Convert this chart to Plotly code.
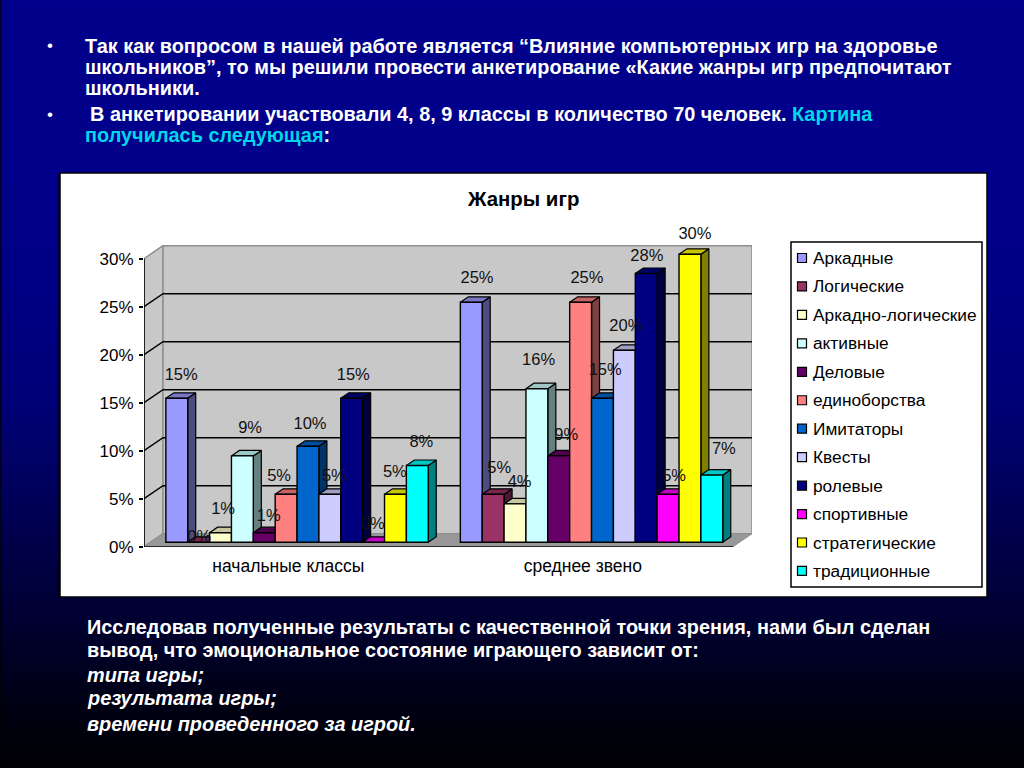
import plotly.graph_objects as go

# ---------- data ----------
categories = ["начальные классы", "среднее звено"]
series_names = ["Аркадные", "Логические", "Аркадно-логические", "активные", "Деловые",
                "единоборства", "Имитаторы", "Квесты", "ролевые", "спортивные",
                "стратегические", "традиционные"]
arkadnye = [15, 25]
logicheskie = [0, 5]
arkadno_logicheskie = [1, 4]
aktivnye = [9, 16]
delovye = [1, 9]
edinoborstva = [5, 25]
imitatory = [10, 15]
kvesty = [5, 20]
rolevye = [15, 28]
sportivnye = [0, 5]
strategicheskie = [5, 30]
tradicionnye = [8, 7]
series_values = [arkadnye, logicheskie, arkadno_logicheskie, aktivnye, delovye, edinoborstva,
                 imitatory, kvesty, rolevye, sportivnye, strategicheskie, tradicionnye]
y_ticks = [0, 5, 10, 15, 20, 25, 30]
title_text = "Жанры игр"

# ---------- style ----------
front_colors = ["#9999FF", "#993366", "#FFFFCC", "#CCFFFF", "#660066", "#FF8080",
                "#0066CC", "#CCCCFF", "#000080", "#FF00FF", "#FFFF00", "#00FFFF"]
FONT = "Liberation Sans, Arial, sans-serif"
W, H = 1024, 768
X0_PX, Y0_PX = 144.0, 546.7      # origin of the front axis plane
BAND_PX, PCT_PX = 294.5, 9.6     # pixels for one category band / one percent
WALL_DX, WALL_DY = 19.0, 13.0    # depth of the back wall
RIGHT_PX, TOP_PX = X0_PX + 2 * BAND_PX + WALL_DX, 222.0
BAR_SHIFT_X, BAR_SHIFT_Y = 5.8, 4.4   # front of bars relative to axis plane
BAR_DX, BAR_DY = 8.0, 5.5        # depth of bars
BARGAP = 0.109
LABEL_LIFT_FIX = -2.0            # px, common correction for data-label height
CAT_LABEL_SHIFT = -0.01          # band units, category labels sit slightly left of band centre

# per-label nudges (px, relative to the top centre of the bar): hand-moved labels in the source
label_dx = [[4.4, 5.7], [0.5, 6.0], [2.6, 4.6], [7.7, 1.7], [4.5, 7.5], [-7.0, 6.3],
            [2.0, 2.7], [4.0, 1.5], [1.5, 0.6], [-0.7, 6.0], [-0.6, 5.0], [4.0, 12.0]]
label_dy = [[24.3, 25.0], [6.0, 27.6], [24.7, 23.0], [29.0, 29.4], [17.7, 22.0], [19.0, 25.6],
            [23.0, 29.0], [19.0, 25.0], [24.0, 18.5], [19.0, 19.0], [23.0, 21.0], [25.0, 27.4]]


def ux(px):
    return px / BAND_PX


def uy(px):
    return px / PCT_PX


def shade(hex_color, k):
    r, g, b = (int(hex_color[i:i + 2], 16) for i in (1, 3, 5))
    return f"rgb({int(r * k)},{int(g * k)},{int(b * k)})"


x_min = -0.5
x_max = x_min + ux(RIGHT_PX - X0_PX)
y_max = uy(Y0_PX - TOP_PX)
x_end = 1.5
wx, wy = ux(WALL_DX), uy(WALL_DY)

fig = go.Figure()


def poly(xs, ys, fill, line_color="rgba(0,0,0,0)", lw=1.0):
    fig.add_trace(go.Scatter(x=xs, y=ys, mode="lines", fill="toself", fillcolor=fill,
                             line=dict(color=line_color, width=lw), hoverinfo="skip",
                             showlegend=False, xaxis="x", yaxis="y"))


# walls and floor
poly([x_min, x_min + wx, x_min + wx, x_min, x_min], [0, wy, 30 + wy, 30, 0], "#C8C8C8", "#8E8E8E", 1.5)
poly([x_min + wx, x_end + wx, x_end + wx, x_min + wx, x_min + wx], [wy, wy, 30 + wy, 30 + wy, wy],
     "#C8C8C8", "#8E8E8E", 1.5)
poly([x_min, x_end, x_end + wx, x_min + wx, x_min], [0, 0, wy, wy, 0], "#989898", "#8E8E8E", 1.0)

# grid lines (left wall + back wall)
gx, gy = [], []
for v in y_ticks[1:-1]:
    gx += [x_min, x_min + wx, x_end + wx, None]
    gy += [v, v + wy, v + wy, None]
fig.add_trace(go.Scatter(x=gx, y=gy, mode="lines", line=dict(color="#000000", width=1.4),
                         hoverinfo="skip", showlegend=False))

# bar geometry
bar_w = (1 - BARGAP) / len(series_values)
bx, by = ux(BAR_SHIFT_X), uy(BAR_SHIFT_Y)
dx, dy = ux(BAR_DX), uy(BAR_DY)


def bar_left(cat_idx, s_idx):
    return cat_idx + bx - (1 - BARGAP) / 2 + s_idx * bar_w


# side and top faces, left to right so nearer bars hide the farther ones
for c in range(len(categories)):
    for s, vals in enumerate(series_values):
        xl = bar_left(c, s)
        xr = xl + bar_w
        top = vals[c] + by
        poly([xr, xr + dx, xr + dx, xr, xr], [by, by + dy, top + dy, top, by],
             shade(front_colors[s], 0.5), "#000000", 1.2)
        poly([xl, xr, xr + dx, xl + dx, xl], [top, top, top + dy, top + dy, top],
             shade(front_colors[s], 0.78), "#000000", 1.2)

# axis lines and category ticks
fig.add_trace(go.Scatter(x=[x_min, x_min, None, x_min, x_end, None, x_min, x_min, None, 0.5, 0.5, None, x_end, x_end],
                         y=[0, 30, None, 0, 0, None, 0, -uy(4), None, 0, -uy(4), None, 0, -uy(4)],
                         mode="lines", line=dict(color="#000000", width=1.6), hoverinfo="skip",
                         showlegend=False, cliponaxis=False))

# front faces (true bars), on an overlaying subplot so they cover every side face
for s, name in enumerate(series_names):
    fig.add_trace(go.Bar(x=[c + bx for c in range(len(categories))], y=series_values[s], base=by, name=name,
                         marker=dict(color=front_colors[s], line=dict(color="#000000", width=1.4)),
                         xaxis="x2", yaxis="y2", showlegend=False))

# data labels
lx, ly, lt = [], [], []
for c in range(len(categories)):
    for s, vals in enumerate(series_values):
        lx.append(bar_left(c, s) + bar_w / 2 + ux(label_dx[s][c]))
        ly.append(vals[c] + by + uy(label_dy[s][c] + LABEL_LIFT_FIX))
        lt.append(f"{vals[c]}%")
fig.add_trace(go.Scatter(x=lx, y=ly, text=lt, mode="text", textposition="middle center",
                         textfont=dict(family=FONT, size=16.5, color="#111111"), cliponaxis=False,
                         xaxis="x2", yaxis="y2", showlegend=False, hoverinfo="skip"))

# ---------- page furniture ----------
shapes = []
BAND = 4
stops = [(0, 140), (150, 139), (274, 135), (397, 120), (490, 92), (552, 70), (600, 55), (684, 26), (768, 3)]


def grad(y):
    for (y0, c0), (y1, c1) in zip(stops, stops[1:]):
        if y <= y1:
            return int(c0 + (c1 - c0) * (y - y0) / (y1 - y0))
    return stops[-1][1]


def rect(x0, y0, x1, y1, fill, line=None, lw=0, layer="below"):
    return dict(type="rect", xref="paper", yref="paper", x0=x0 / W, x1=x1 / W, y0=1 - y0 / H, y1=1 - y1 / H,
                fillcolor=fill, line=dict(color=line or "rgba(0,0,0,0)", width=lw), layer=layer)


for y in range(0, H, BAND):
    shapes.append(rect(0, y, W, y + BAND + 1, "rgb(0,0,%d)" % grad(y)))
shapes.append(rect(0, 0, 1.5, H, "rgba(0,0,0,0.7)"))
shapes.append(rect(57.5, 173, 60, 597, "rgba(0,0,0,0.55)"))
shapes.append(rect(60, 173, 987, 597, "#FFFFFF", "#000000", 1.5))
shapes.append(rect(791, 242, 982, 587, "#FFFFFF", "#000000", 1.5))

LEG_Y0, LEG_STEP = 258.0, 28.45
annotations = []


def label(x, y, text, size, color="#FFFFFF", anchor="left", bold=False, italic=False):
    if bold:
        text = f"<b>{text}</b>"
    if italic:
        text = f"<i>{text}</i>"
    annotations.append(dict(xref="paper", yref="paper", x=x / W, y=1 - y / H, text=text, showarrow=False,
                            xanchor=anchor, yanchor="middle", align="left",
                            font=dict(family=FONT, size=size, color=color)))


for s, name in enumerate(series_names):
    yc = LEG_Y0 + s * LEG_STEP
    shapes.append(rect(797.5, yc - 4.5, 806.5, yc + 4.5, front_colors[s], "#000000", 1.2, layer="above"))
    label(811, yc, name, 17.3, "#000000")

label(523, 199, title_text, 20.4, "#000000", anchor="center", bold=True)

CYAN = "#00D8E8"
top_lines = [
    (46, "Так как вопросом в нашей работе является “Влияние компьютерных игр на здоровье", 83),
    (67, "школьников”, то мы решили провести анкетирование «Какие жанры игр предпочитают", 83),
    (88, "школьники.", 83),
    (114, f"В анкетировании участвовали 4, 8, 9 классы в количество 70 человек. <span style='color:{CYAN}'>Картина</span>", 88),
    (135, f"<span style='color:{CYAN}'>получилась следующая</span>:", 83),
]
for y, txt, x in top_lines:
    label(x, y, txt, 19.9, bold=True)
label(45, 45, "•", 17)
label(45, 114, "•", 17)

bottom_lines = [
    (627, "Исследовав полученные результаты с качественной точки зрения, нами был сделан", False),
    (650, "вывод, что эмоциональное состояние играющего зависит от:", False),
    (675, "типа игры;", True),
    (698, "результата игры;", True),
    (724, "времени проведенного за игрой.", True),
]
for y, txt, it in bottom_lines:
    label(85, y, txt, 19.9, bold=True, italic=it)

x_dom = [X0_PX / W, RIGHT_PX / W]
y_dom = [1 - Y0_PX / H, 1 - TOP_PX / H]
fig.update_layout(
    width=W, height=H, margin=dict(l=0, r=0, t=0, b=0, pad=0, autoexpand=False),
    paper_bgcolor="#000080", plot_bgcolor="rgba(0,0,0,0)",
    barmode="group", bargap=BARGAP, bargroupgap=0, showlegend=False,
    shapes=shapes, annotations=annotations, font=dict(family=FONT, color="#000000"),
    xaxis=dict(domain=x_dom, range=[x_min, x_max], tickmode="array",
               tickvals=[i + CAT_LABEL_SHIFT for i in range(len(categories))], ticktext=categories,
               showgrid=False, zeroline=False, showline=False, ticks="", ticklabelstandoff=7,
               tickfont=dict(family=FONT, size=17.5, color="#000000")),
    yaxis=dict(domain=y_dom, range=[0, y_max], tickmode="array", tickvals=y_ticks,
               ticktext=[f"{v}%" for v in y_ticks], showgrid=False, zeroline=False, showline=False,
               ticks="outside", ticklen=4, tickwidth=1.6, tickcolor="#000000", ticklabelstandoff=2,
               tickfont=dict(family=FONT, size=17, color="#000000")),
    xaxis2=dict(domain=x_dom, range=[x_min, x_max], overlaying="x", visible=False, matches="x"),
    yaxis2=dict(domain=y_dom, range=[0, y_max], overlaying="y", visible=False, matches="y"),
)

fig.write_html("out.html", config={"displayModeBar": False},
               post_script="document.body.style.margin='0';document.body.style.overflow='hidden';")
